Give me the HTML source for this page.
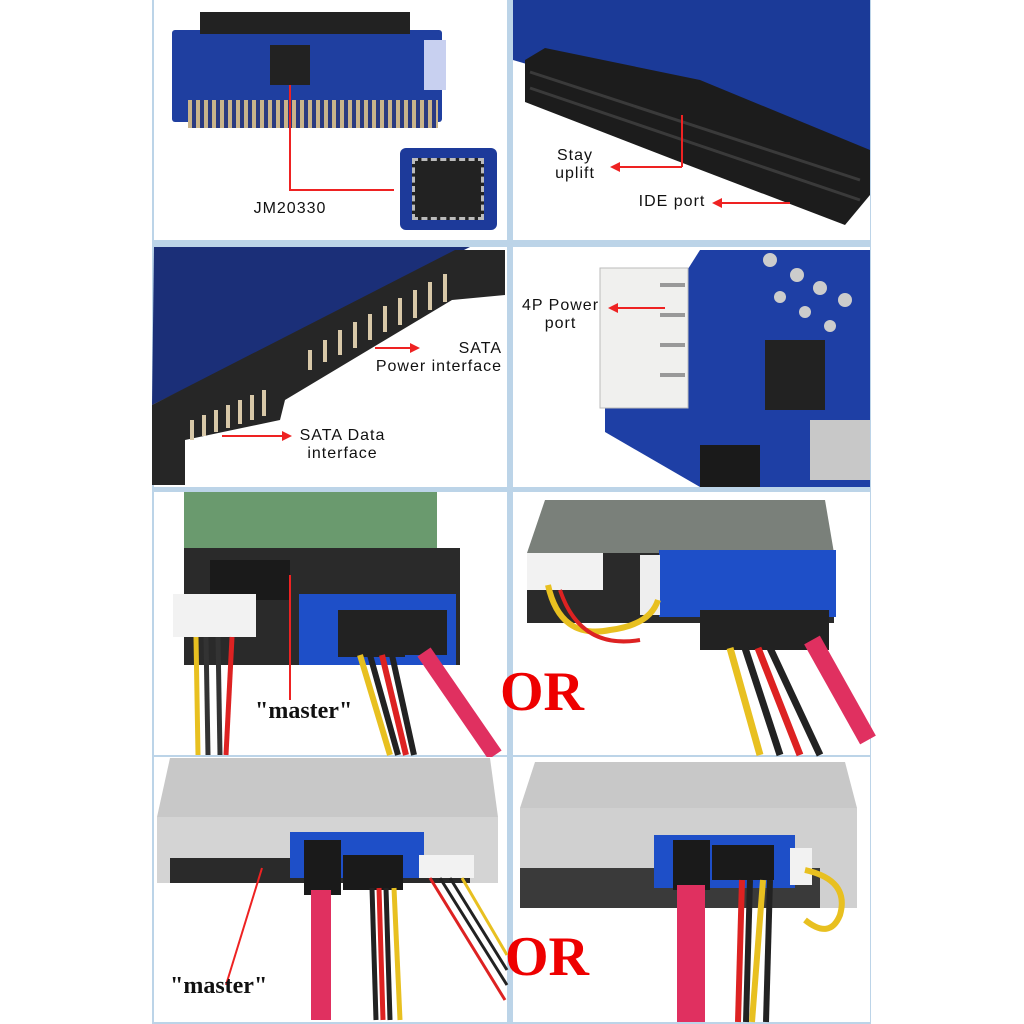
<!DOCTYPE html>
<html><head><meta charset="utf-8"><style>
body{margin:0;width:1024px;height:1024px;background:#fff;position:relative;overflow:hidden;font-family:"Liberation Sans",sans-serif}
div{position:absolute;box-sizing:border-box}
.t{font-size:16px;color:#111;line-height:18px;text-align:center;letter-spacing:1px}
.or{font-family:"Liberation Serif",serif;font-weight:bold;color:#e00;font-size:56px}
.m{font-family:"Liberation Serif",serif;font-weight:bold;color:#111;font-size:24px}
.ln{background:#e22}
svg{position:absolute;left:0;top:0}
</style></head><body>
<div style="left:152px;top:0;width:719px;height:1024px;background:#bcd4e8"></div>

<!-- Row1 left -->
<div style="left:154px;top:0;width:353px;height:240px;background:#fff"></div>
<div style="left:172px;top:30px;width:270px;height:92px;background:#1f3fa0;border-radius:3px"></div>
<div style="left:200px;top:12px;width:210px;height:22px;background:#222"></div>
<div style="left:188px;top:100px;width:250px;height:28px;background:repeating-linear-gradient(90deg,#c9b48a 0 4px,#2a3a80 4px 8px)"></div>
<div style="left:270px;top:45px;width:40px;height:40px;background:#222"></div>
<div style="left:424px;top:40px;width:22px;height:50px;background:#c8d0f0"></div>
<div style="left:400px;top:148px;width:97px;height:82px;background:#1d3a9a;border-radius:6px"></div>
<div style="left:412px;top:158px;width:72px;height:62px;background:#222;border:3px dashed #bbb"></div>
<div class="ln" style="left:289px;top:85px;width:2px;height:105px"></div>
<div class="ln" style="left:289px;top:189px;width:105px;height:2px"></div>
<div class="t" style="left:250px;top:200px;width:80px">JM20330</div>

<svg width="1024" height="1024" viewBox="0 0 1024 1024">
 <!-- row1 right -->
 <rect x="513" y="0" width="357" height="240" fill="#fff"/>
 <polygon points="513,0 870,0 870,165 513,60" fill="#1b3a98"/>
 <polygon points="525,60 545,48 700,80 870,150 870,195 845,225 680,162 525,102" fill="#1c1c1c"/>
 <g stroke="#3a3a3a" stroke-width="3">
  <line x1="530" y1="72" x2="860" y2="180"/>
  <line x1="530" y1="88" x2="860" y2="200"/>
 </g>
 <line x1="682" y1="115" x2="682" y2="167" stroke="#e22" stroke-width="2"/>
 <line x1="612" y1="167" x2="682" y2="167" stroke="#e22" stroke-width="2"/>
 <polygon points="610,167 620,162 620,172" fill="#e22"/>
 <line x1="715" y1="203" x2="790" y2="203" stroke="#e22" stroke-width="2"/>
 <polygon points="712,203 722,198 722,208" fill="#e22"/>

 <!-- row2 left -->
 <rect x="154" y="247" width="353" height="240" fill="#fff"/>
 <polygon points="154,247 470,247 152,405" fill="#1b2f78"/>
 <polygon points="152,405 455,250 505,250 505,295 452,300 285,400 280,420 185,440 185,485 152,485" fill="#262626"/>
 <g stroke="#d8c8a8" stroke-width="4">
  <line x1="310" y1="370" x2="310" y2="350"/><line x1="325" y1="362" x2="325" y2="340"/>
  <line x1="340" y1="355" x2="340" y2="330"/><line x1="355" y1="348" x2="355" y2="322"/>
  <line x1="370" y1="340" x2="370" y2="314"/><line x1="385" y1="332" x2="385" y2="306"/>
  <line x1="400" y1="325" x2="400" y2="298"/><line x1="415" y1="318" x2="415" y2="290"/>
  <line x1="430" y1="310" x2="430" y2="282"/><line x1="445" y1="302" x2="445" y2="274"/>
  <line x1="192" y1="440" x2="192" y2="420"/><line x1="204" y1="436" x2="204" y2="415"/>
  <line x1="216" y1="432" x2="216" y2="410"/><line x1="228" y1="428" x2="228" y2="405"/>
  <line x1="240" y1="424" x2="240" y2="400"/><line x1="252" y1="420" x2="252" y2="395"/>
  <line x1="264" y1="416" x2="264" y2="390"/>
 </g>
 <line x1="375" y1="348" x2="415" y2="348" stroke="#e22" stroke-width="2"/>
 <polygon points="420,348 410,343 410,353" fill="#e22"/>
 <line x1="222" y1="436" x2="285" y2="436" stroke="#e22" stroke-width="2"/>
 <polygon points="292,436 282,431 282,441" fill="#e22"/>

 <!-- row2 right -->
 <rect x="513" y="247" width="357" height="240" fill="#fff"/>
 <polygon points="700,250 870,250 870,487 700,487 605,432 605,400" fill="#1e3fa5"/>
 <rect x="600" y="268" width="88" height="140" fill="#f0f0ee" stroke="#bbb"/>
 <g stroke="#999" stroke-width="4"><line x1="660" y1="285" x2="685" y2="285"/><line x1="660" y1="315" x2="685" y2="315"/><line x1="660" y1="345" x2="685" y2="345"/><line x1="660" y1="375" x2="685" y2="375"/></g>
 <rect x="765" y="340" width="60" height="70" fill="#222"/>
 <rect x="700" y="445" width="60" height="42" fill="#1a1a1a"/>
 <rect x="810" y="420" width="60" height="60" fill="#c8c8c8"/>
 <g fill="#ccc"><circle cx="770" cy="260" r="7"/><circle cx="797" cy="275" r="7"/><circle cx="820" cy="288" r="7"/><circle cx="845" cy="300" r="7"/><circle cx="780" cy="297" r="6"/><circle cx="805" cy="312" r="6"/><circle cx="830" cy="326" r="6"/></g>
 <line x1="612" y1="308" x2="665" y2="308" stroke="#e22" stroke-width="2"/>
 <polygon points="608,308 618,303 618,313" fill="#e22"/>

 <!-- row3 left -->
 <rect x="154" y="492" width="353" height="263" fill="#fff"/>
 <rect x="184" y="492" width="253" height="76" fill="#6a9a6e"/>
 <rect x="184" y="548" width="276" height="117" fill="#2a2a2a"/>
 <rect x="210" y="560" width="80" height="40" fill="#1a1a1a"/>
 <rect x="299" y="594" width="157" height="71" fill="#1e4fc8"/>
 <rect x="173" y="594" width="83" height="43" fill="#f2f2f2"/>
 <g stroke-width="5"><line x1="196" y1="637" x2="198" y2="755" stroke="#e8c020"/><line x1="206" y1="637" x2="208" y2="755" stroke="#333"/><line x1="218" y1="637" x2="220" y2="755" stroke="#333"/><line x1="232" y1="637" x2="226" y2="755" stroke="#d22"/></g>
 <rect x="338" y="610" width="67" height="47" fill="#222"/>
 <rect x="403" y="610" width="44" height="45" fill="#222"/>
 <g stroke-width="6"><line x1="360" y1="655" x2="390" y2="755" stroke="#e8c020"/><line x1="370" y1="655" x2="398" y2="755" stroke="#222"/><line x1="382" y1="655" x2="406" y2="755" stroke="#d22"/><line x1="392" y1="655" x2="414" y2="755" stroke="#222"/></g>
 <line x1="424" y1="652" x2="495" y2="755" stroke="#e03060" stroke-width="16"/>
 <line x1="290" y1="575" x2="290" y2="700" stroke="#e22" stroke-width="2"/>

 <!-- row3 right -->
 <rect x="513" y="492" width="357" height="263" fill="#fff"/>
 <polygon points="545,500 825,500 834,553 527,553" fill="#7a807a"/>
 <rect x="527" y="553" width="307" height="70" fill="#2a2a2a"/>
 <rect x="659" y="550" width="177" height="67" fill="#1e4fc8"/>
 <rect x="527" y="553" width="76" height="37" fill="#f2f2f2"/>
 <rect x="640" y="555" width="20" height="60" fill="#eee"/>
 <path d="M548 585 Q560 640 610 630 Q650 625 658 600" fill="none" stroke="#e8c020" stroke-width="6"/>
 <path d="M560 590 Q580 650 640 640" fill="none" stroke="#d22" stroke-width="4"/>
 <rect x="700" y="610" width="88" height="40" fill="#222"/>
 <rect x="783" y="610" width="46" height="40" fill="#222"/>
 <g stroke-width="7"><line x1="730" y1="648" x2="760" y2="755" stroke="#e8c020"/><line x1="745" y1="648" x2="780" y2="755" stroke="#222"/><line x1="758" y1="648" x2="800" y2="755" stroke="#d22"/><line x1="770" y1="648" x2="820" y2="755" stroke="#222"/></g>
 <line x1="812" y1="640" x2="868" y2="740" stroke="#e03060" stroke-width="18"/>

 <!-- row4 left -->
 <rect x="154" y="757" width="353" height="265" fill="#fff"/>
 <polygon points="170,758 490,758 498,817 157,817" fill="#c8c8c8"/>
 <rect x="157" y="817" width="341" height="66" fill="#d4d4d4"/>
 <rect x="170" y="858" width="300" height="25" fill="#2a2a2a"/>
 <rect x="290" y="832" width="134" height="46" fill="#1e4fc8"/>
 <rect x="304" y="840" width="37" height="55" fill="#1a1a1a"/>
 <rect x="343" y="855" width="60" height="35" fill="#1a1a1a"/>
 <rect x="419" y="855" width="55" height="23" fill="#f2f2f2"/>
 <rect x="311" y="890" width="20" height="130" fill="#e03060"/>
 <g stroke-width="5"><line x1="372" y1="888" x2="376" y2="1020" stroke="#222"/><line x1="379" y1="888" x2="383" y2="1020" stroke="#d22"/><line x1="386" y1="888" x2="390" y2="1020" stroke="#222"/><line x1="394" y1="888" x2="400" y2="1020" stroke="#e8c020"/></g>
 <g stroke-width="3"><line x1="430" y1="878" x2="505" y2="1000" stroke="#d22"/><line x1="440" y1="878" x2="507" y2="985" stroke="#222"/><line x1="450" y1="878" x2="507" y2="970" stroke="#222"/><line x1="462" y1="878" x2="507" y2="955" stroke="#e8c020"/></g>
 <line x1="262" y1="868" x2="226" y2="985" stroke="#e22" stroke-width="2"/>

 <!-- row4 right -->
 <rect x="513" y="757" width="357" height="265" fill="#fff"/>
 <polygon points="535,762 845,762 857,808 520,808" fill="#c8c8c8"/>
 <rect x="520" y="808" width="337" height="100" fill="#d0d0d0"/>
 <rect x="520" y="868" width="300" height="40" fill="#3a3a3a"/>
 <rect x="654" y="835" width="141" height="53" fill="#1e4fc8"/>
 <rect x="673" y="840" width="37" height="50" fill="#1a1a1a"/>
 <rect x="712" y="845" width="62" height="35" fill="#1a1a1a"/>
 <rect x="790" y="848" width="22" height="37" fill="#f2f2f2"/>
 <path d="M805 870 Q850 880 840 915 Q830 940 805 920" fill="none" stroke="#e8c020" stroke-width="6"/>
 <rect x="677" y="885" width="28" height="137" fill="#e03060"/>
 <g stroke-width="6"><line x1="742" y1="880" x2="738" y2="1022" stroke="#d22"/><line x1="750" y1="880" x2="746" y2="1022" stroke="#222"/><line x1="763" y1="880" x2="752" y2="1022" stroke="#e8c020"/><line x1="770" y1="880" x2="766" y2="1022" stroke="#222"/></g>
</svg>
<div class="t" style="left:545px;top:147px;width:60px">Stay uplift</div>
<div class="t" style="left:628px;top:193px;width:88px">IDE port</div>
<div class="t" style="left:352px;top:340px;width:150px;text-align:right">SATA<br>Power interface</div>
<div class="t" style="left:280px;top:427px;width:125px">SATA Data<br>interface</div>
<div class="t" style="left:513px;top:297px;width:95px">4P Power<br>port</div>
<div class="m" style="left:255px;top:698px">"master"</div>
<div class="or" style="left:500px;top:660px">OR</div>
<div class="m" style="left:170px;top:973px">"master"</div>
<div class="or" style="left:505px;top:925px">OR</div>
</body></html>
